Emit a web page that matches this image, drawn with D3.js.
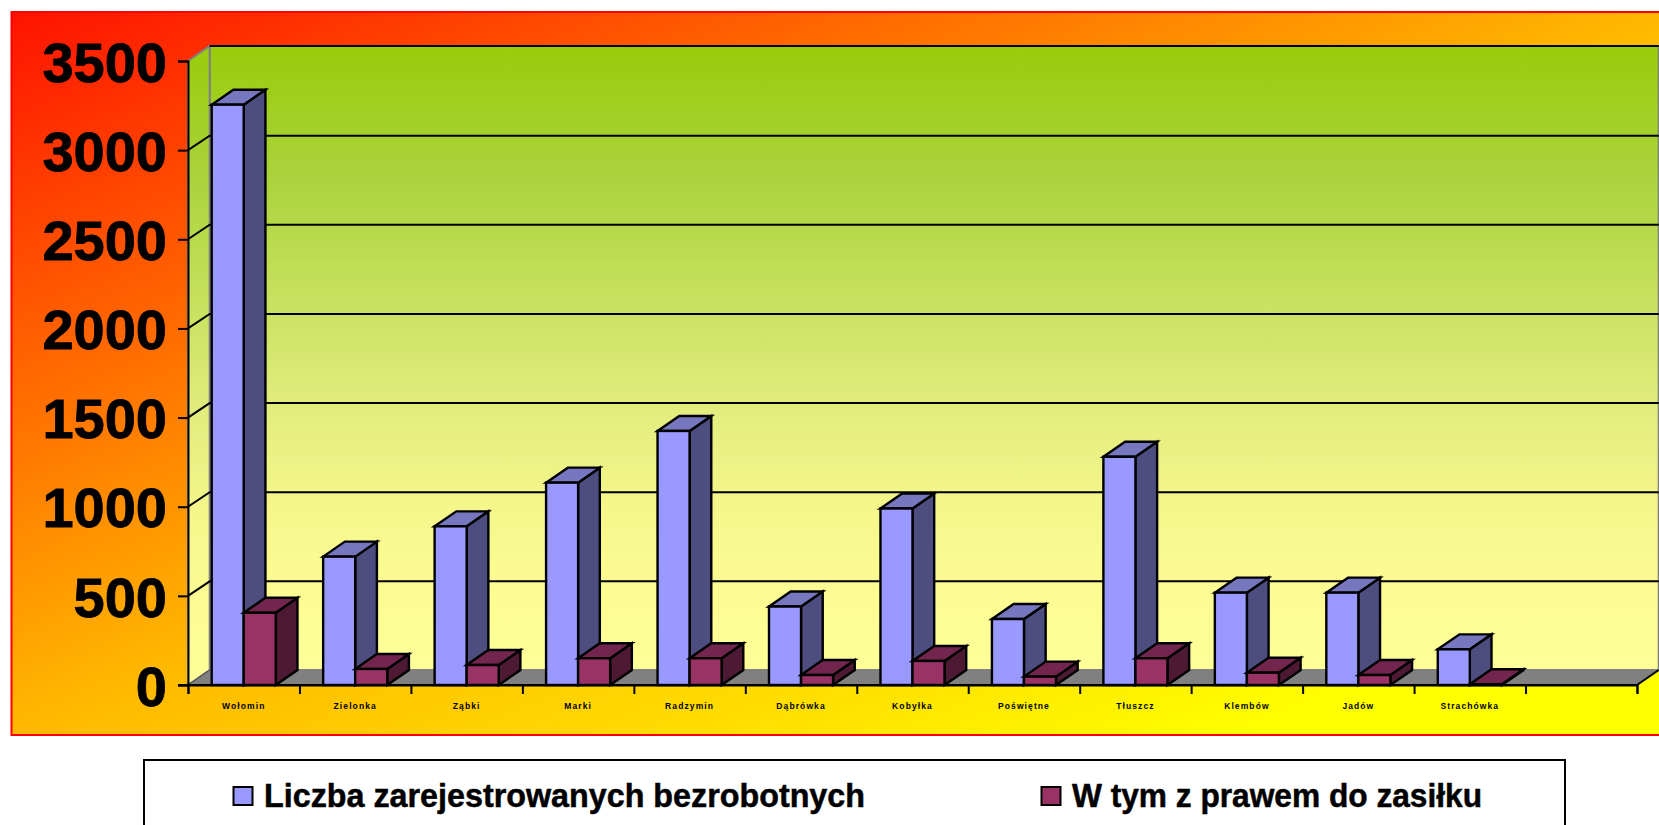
<!DOCTYPE html>
<html>
<head>
<meta charset="utf-8">
<script src="https://cdnjs.cloudflare.com/ajax/libs/d3/7.8.5/d3.min.js"></script>
<style>
html, body { margin: 0; padding: 0; background: #fff; overflow: hidden; }
svg { display: block; }
text { font-family: "Liberation Sans", Arial, sans-serif; font-weight: bold; fill: #000; }
</style>
</head>
<body>
<svg id="chart" width="1659" height="825"></svg>
<script>
// values
var categories = ["Wołomin", "Zielonka", "Ząbki", "Marki", "Radzymin", "Dąbrówka", "Kobyłka", "Poświętne", "Tłuszcz", "Klembów", "Jadów", "Strachówka", ""];
var registered = [3255, 720, 890, 1135, 1425, 440, 990, 370, 1280, 518, 518, 200];
var withBenefit = [405, 90, 112, 150, 150, 56, 135, 47, 150, 69, 56, 4];
var yTicks = [0, 500, 1000, 1500, 2000, 2500, 3000, 3500];
var seriesNames = ["Liczba zarejestrowanych bezrobotnych", "W tym z prawem do zasiłku"];
var seriesFront = ["#9999ff", "#993366"];
var seriesSide = ["#4d4d80", "#4d1933"];
var seriesTop = ["#7777bf", "#73264d"];

///layout
var plot = { left: 188, right: 1637, top: 61, bottom: 685 };
var depthX = 21.7, depthY = 15; // oblique offset of the 3d box

var svg = d3.select("#chart");

var x = d3.scaleBand().domain(categories).range([plot.left, plot.right]);
var inner = d3.scaleBand().domain([0, 1]).range([0, x.bandwidth()]).paddingInner(0).paddingOuter(0.74);
var y = d3.scaleLinear().domain([0, 3500]).range([plot.bottom, plot.top]);
var slots = d3.scaleLinear().domain([0, categories.length]).range([plot.left, plot.right]);

var defs = svg.append("defs");

var frameGrad = defs.append("linearGradient").attr("id", "frameGrad")
	.attr("x1", 0).attr("y1", 0).attr("x2", 1).attr("y2", 1);
[[0, "#ff1200"], [0.5, "#ffb900"], [0.72, "#ffe000"], [0.87, "#ffff00"], [1, "#ffff00"]].forEach(function (s) {
	frameGrad.append("stop").attr("offset", s[0]).attr("stop-color", s[1]);
});

var wallGrad = defs.append("linearGradient").attr("id", "wallGrad")
	.attr("x1", 0).attr("y1", 0).attr("x2", 0).attr("y2", 1);
[[0, "#99cc0a"], [0.2, "#a9d23a"], [0.58, "#e2ed7e"], [0.73, "#f4f68a"], [0.87, "#fcfc92"], [1, "#ffff99"]].forEach(function (s) {
	wallGrad.append("stop").attr("offset", s[0]).attr("stop-color", s[1]);
});

// outer frame, runs off the right edge
svg.append("rect")
	.attr("x", 11.5).attr("y", 12).attr("width", 1670).attr("height", 723)
	.attr("fill", "url(#frameGrad)").attr("stroke", "#ff0000").attr("stroke-width", 2);

function pts(list) {
	return list.map(function (p) { return p[0] + "," + p[1]; }).join(" ");
}

var x0 = plot.left, x1 = plot.right;
var yb = y(0), yt = y(3500);

// back wall, side wall, floor
svg.append("polygon")
	.attr("points", pts([[x0 + depthX, yt - depthY], [x1 + depthX, yt - depthY], [x1 + depthX, yb - depthY], [x0 + depthX, yb - depthY]]))
	.attr("fill", "url(#wallGrad)").attr("stroke", "#808080").attr("stroke-width", 2);
svg.append("polygon")
	.attr("points", pts([[x0, yt], [x0 + depthX, yt - depthY], [x0 + depthX, yb - depthY], [x0, yb]]))
	.attr("fill", "url(#wallGrad)").attr("stroke", "#808080").attr("stroke-width", 2);
svg.append("polygon")
	.attr("points", pts([[x0, yb], [x0 + depthX, yb - depthY], [x1 + depthX, yb - depthY], [x1, yb]]))
	.attr("fill", "#808080").attr("stroke", "#808080").attr("stroke-width", 1);

// gridlines on both walls
var grid = svg.append("g").attr("fill", "none").attr("stroke", "#000").attr("stroke-width", 2);
grid.selectAll("polyline").data(yTicks.slice(1, -1)).enter().append("polyline")
	.attr("points", function (d) {
		return pts([[x0, y(d)], [x0 + depthX, y(d) - depthY + 0.5], [x1 + depthX, y(d) - depthY + 0.5]]);
	});
svg.append("line")
	.attr("x1", x0 + depthX).attr("y1", yt - depthY).attr("x2", x1 + depthX).attr("y2", yt - depthY)
	.attr("stroke", "#000").attr("stroke-width", 2);
svg.append("line")
	.attr("x1", x1).attr("y1", yb).attr("x2", x1 + depthX).attr("y2", yb - depthY)
	.attr("stroke", "#000").attr("stroke-width", 2);
svg.append("line")
	.attr("x1", x0).attr("y1", yb).attr("x2", x0 + depthX).attr("y2", yb - depthY)
	.attr("stroke", "#555").attr("stroke-width", 1.5);

// axes
var yAxis = d3.axisLeft(y).tickValues(yTicks).tickFormat(d3.format("d")).tickSize(10).tickPadding(11);
var yG = svg.append("g").attr("transform", "translate(" + plot.left + ",0)").call(yAxis);
yG.selectAll("path,line").attr("stroke", "#000").attr("stroke-width", 2);
yG.selectAll("text").attr("font-size", 56).attr("dy", "0.36em").style("stroke", "#000").style("stroke-width", 0.8);

var slotAxis = d3.axisBottom(slots).ticks(categories.length).tickFormat("").tickSize(9);
var slotG = svg.append("g").attr("transform", "translate(0," + plot.bottom + ")").call(slotAxis);
slotG.selectAll("path,line").attr("stroke", "#000").attr("stroke-width", 2);

var xAxis = d3.axisBottom(x).tickSize(0).tickPadding(18);
var xG = svg.append("g").attr("transform", "translate(0," + plot.bottom + ")").call(xAxis);
xG.select("path").remove();
xG.selectAll("text").attr("font-size", 8.5).attr("letter-spacing", 1.1);

// bars, left to right so the later box sits over the earlier side face
var rows = [];
registered.forEach(function (v, i) {
	rows.push({ cat: categories[i], s: 0, v: v });
	rows.push({ cat: categories[i], s: 1, v: withBenefit[i] });
});

var bars = svg.append("g").attr("stroke", "#000").attr("stroke-width", 2.4).attr("stroke-linejoin", "miter")
	.selectAll("g").data(rows).enter().append("g");

bars.append("polygon")
	.attr("fill", function (d) { return seriesSide[d.s]; })
	.attr("points", function (d) {
		var r = x(d.cat) + inner(d.s) + inner.bandwidth();
		return pts([[r, y(0)], [r + depthX, y(0) - depthY], [r + depthX, y(d.v) - depthY], [r, y(d.v)]]);
	});
bars.append("polygon")
	.attr("fill", function (d) { return seriesTop[d.s]; })
	.attr("points", function (d) {
		var l = x(d.cat) + inner(d.s), r = l + inner.bandwidth();
		return pts([[l, y(d.v)], [l + depthX, y(d.v) - depthY], [r + depthX, y(d.v) - depthY], [r, y(d.v)]]);
	});
bars.append("rect")
	.attr("fill", function (d) { return seriesFront[d.s]; })
	.attr("x", function (d) { return x(d.cat) + inner(d.s); })
	.attr("y", function (d) { return y(d.v); })
	.attr("width", inner.bandwidth())
	.attr("height", function (d) { return y(0) - y(d.v); });

// base line drawn again over the bars
svg.append("line")
	.attr("x1", x0 - 10).attr("y1", yb).attr("x2", x1).attr("y2", yb)
	.attr("stroke", "#000").attr("stroke-width", 2);

// legend, box runs off the bottom
svg.append("rect")
	.attr("x", 144).attr("y", 760).attr("width", 1421).attr("height", 100)
	.attr("fill", "#fff").attr("stroke", "#000").attr("stroke-width", 2);

var legendX = [233.5, 1041.5];
var legendLen = [601, 410];
var legend = svg.selectAll(".leg").data(seriesNames).enter().append("g").attr("class", "leg");
legend.append("rect")
	.attr("x", function (d, i) { return legendX[i]; })
	.attr("y", 787).attr("width", 19).attr("height", 18)
	.attr("fill", function (d, i) { return seriesFront[i]; })
	.attr("stroke", "#000").attr("stroke-width", 2);
legend.append("text")
	.attr("x", function (d, i) { return legendX[i] + 30.5; })
	.attr("y", 807)
	.attr("font-size", 33)
	.attr("textLength", function (d, i) { return legendLen[i]; })
	.attr("lengthAdjust", "spacingAndGlyphs")
	.style("stroke", "#000").style("stroke-width", 0.5)
	.text(function (d) { return d; });
</script>
</body>
</html>
